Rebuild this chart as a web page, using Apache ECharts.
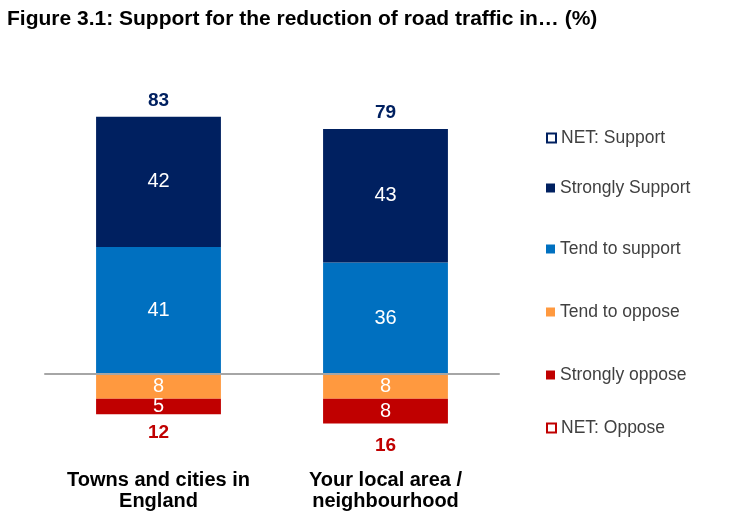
<!DOCTYPE html>
<html>
<head>
<meta charset="utf-8">
<script src="https://cdn.jsdelivr.net/npm/echarts@6/dist/echarts.min.js"></script>
<style>
  html, body { margin: 0; padding: 0; background: #fff; }
  #chart { width: 733px; height: 521px; }
</style>
</head>
<body>
<div id="chart"></div>
<script>
const categories = ['Towns and cities in\nEngland', 'Your local area /\nneighbourhood']
const stronglySupport = [42, 43]
const tendSupport = [41, 36]
const tendOppose = [8, 8]
const stronglyOppose = [5, 8]
const netSupport = [83, 79]
const netOppose = [12, 16]

const NAVY = '#002060'
const BLUE = '#0070C0'
const ORANGE = '#FF993F'
const RED = '#C00000'
const FONT = '"Liberation Sans", Arial, sans-serif'

const chart = echarts.init(document.getElementById('chart'), null, { renderer: 'canvas' })

const insideLabel = {
  show: true,
  position: 'inside',
  color: '#fff',
  fontSize: 20,
  fontFamily: FONT,
  formatter: (p) => Math.abs(p.value)
}

// one legend per entry so the vertical spacing can follow the reference
const legendRows = [
  { name: 'NET: Support', top: 137, style: { color: '#fff', borderColor: NAVY, borderWidth: 2 } },
  { name: 'Strongly Support', top: 187, style: { color: NAVY } },
  { name: 'Tend to support', top: 248, style: { color: BLUE } },
  { name: 'Tend to oppose', top: 311, style: { color: ORANGE } },
  { name: 'Strongly oppose', top: 374, style: { color: RED } },
  { name: 'NET: Oppose', top: 427, style: { color: '#fff', borderColor: RED, borderWidth: 2 } }
]

const legends = legendRows.map((r) => ({
  left: 541,
  top: r.top - 13,
  orient: 'vertical',
  itemWidth: 9,
  itemHeight: 9,
  itemGap: 0,
  selectedMode: false,
  icon: 'rect',
  textStyle: { color: '#404040', fontSize: 17.5, fontFamily: FONT },
  data: [{ name: r.name, icon: 'rect', itemStyle: r.style }]
}))

const netLabel = (color, position, distance) => ({
  show: true,
  position,
  distance,
  color,
  opacity: 1,
  fontSize: 19,
  fontWeight: 'bold',
  fontFamily: FONT,
  formatter: (p) => Math.abs(p.value)
})

chart.setOption({
  animation: false,
  title: {
    text: 'Figure 3.1: Support for the reduction of road traffic in… (%)',
    left: 2,
    top: 4,
    textStyle: { fontSize: 21, fontWeight: 'bold', color: '#000', fontFamily: FONT }
  },
  legend: legends,
  grid: { left: 45, right: 234, top: 95, bottom: 85, outerBoundsMode: 'none', containLabel: false },
  xAxis: {
    type: 'category',
    data: categories,
    axisLine: { onZero: true, lineStyle: { color: '#A6A6A6', width: 2 } },
    axisTick: { show: false },
    axisLabel: {
      interval: 0,
      hideOverlap: false,
      margin: 34,
      color: '#000',
      fontSize: 20,
      fontWeight: 'bold',
      lineHeight: 21,
      fontFamily: FONT
    },
    z: 5
  },
  yAxis: {
    type: 'value',
    min: -20,
    max: 90,
    show: false,
    splitLine: { show: false }
  },
  series: [
    {
      name: 'Tend to support',
      type: 'bar',
      stack: 'total',
      barWidth: '55%',
      itemStyle: { color: BLUE },
      label: insideLabel,
      data: tendSupport
    },
    {
      name: 'Strongly Support',
      type: 'bar',
      stack: 'total',
      itemStyle: { color: NAVY },
      label: insideLabel,
      data: stronglySupport
    },
    {
      name: 'Tend to oppose',
      type: 'bar',
      stack: 'total',
      itemStyle: { color: ORANGE },
      label: insideLabel,
      data: tendOppose.map((v) => -v)
    },
    {
      name: 'Strongly oppose',
      type: 'bar',
      stack: 'total',
      itemStyle: { color: RED },
      label: insideLabel,
      data: stronglyOppose.map((v) => -v)
    },
    {
      name: 'NET: Support',
      type: 'scatter',
      symbolSize: 1,
      itemStyle: { color: 'rgba(0,0,0,0)', opacity: 1 },
      label: netLabel(NAVY, 'top', 6),
      data: netSupport
    },
    {
      name: 'NET: Oppose',
      type: 'scatter',
      symbolSize: 1,
      itemStyle: { color: 'rgba(0,0,0,0)', opacity: 1 },
      label: netLabel(RED, 'bottom', 12),
      data: netOppose.map((v) => -v)
    }
  ]
})
</script>
</body>
</html>
